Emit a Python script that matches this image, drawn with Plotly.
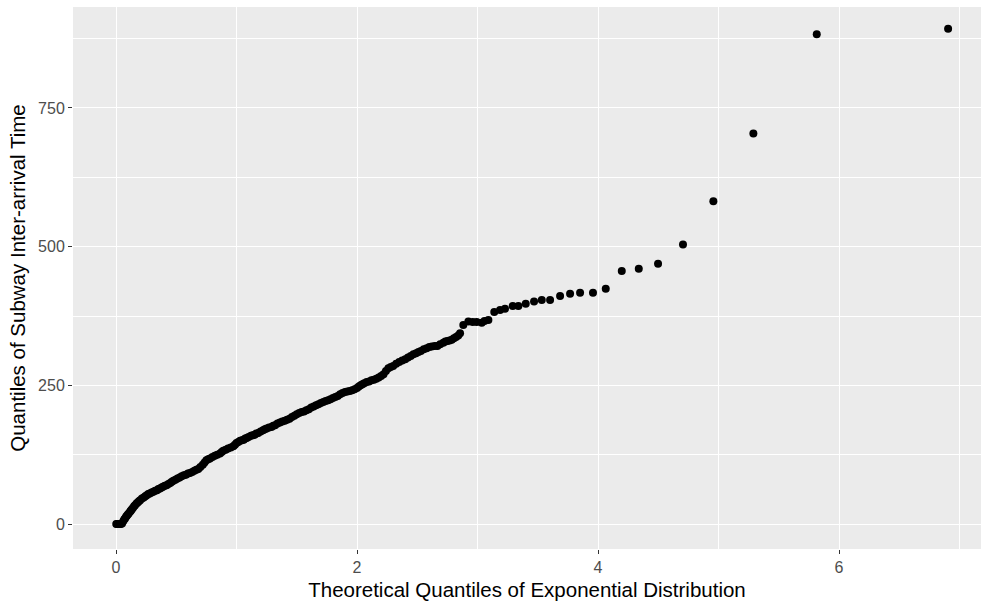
import plotly.graph_objects as go

# Theoretical quantiles (x) and sample quantiles (y)
theoretical = [
    0.002, 0.01, 0.02, 0.03, 0.04, 0.05, 0.06, 0.068, 0.075, 0.083, 0.09, 0.098, 0.105,
    0.116, 0.123, 0.13, 0.14, 0.15, 0.158, 0.17, 0.18, 0.19, 0.2, 0.215, 0.23, 0.243,
    0.255, 0.268, 0.28, 0.295, 0.31, 0.325, 0.34, 0.352, 0.365, 0.378, 0.39, 0.405,
    0.42, 0.435, 0.45, 0.463, 0.476, 0.493, 0.51, 0.528, 0.545, 0.563, 0.58, 0.597,
    0.614, 0.632, 0.65, 0.667, 0.683, 0.70, 0.72, 0.735, 0.75, 0.765, 0.78, 0.80,
    0.82, 0.84, 0.863, 0.877, 0.89, 0.91, 0.93, 0.952, 0.974, 0.987, 1.0, 1.015,
    1.03, 1.045, 1.06, 1.072, 1.085, 1.10, 1.12, 1.135, 1.15, 1.165, 1.18, 1.20,
    1.22, 1.235, 1.25, 1.27, 1.29, 1.305, 1.32, 1.34, 1.36, 1.38, 1.40, 1.42,
    1.44, 1.46, 1.48, 1.50, 1.52, 1.54, 1.56, 1.58, 1.60, 1.62, 1.64, 1.66,
    1.68, 1.70, 1.72, 1.74, 1.76, 1.78, 1.80, 1.82, 1.84, 1.86, 1.88, 1.90,
    1.92, 1.94, 1.96, 1.98, 2.0, 2.015, 2.03, 2.045, 2.06, 2.08, 2.10, 2.12,
    2.14, 2.16, 2.18, 2.20, 2.22, 2.24, 2.26, 2.28, 2.30, 2.325, 2.35, 2.375,
    2.40, 2.423, 2.446, 2.468, 2.49, 2.51, 2.53, 2.554, 2.578, 2.60, 2.62, 2.645,
    2.667, 2.69, 2.716, 2.733, 2.75, 2.768, 2.786, 2.804, 2.822, 2.84, 2.855,
    2.882, 2.924, 2.96, 2.993, 3.035, 3.058, 3.09, 3.139,
    3.187, 3.228, 3.292, 3.339, 3.40, 3.469, 3.533, 3.602, 3.685, 3.768, 3.851,
    3.958, 4.064, 4.197, 4.338, 4.498, 4.705, 4.957, 5.289, 5.815, 6.905,
]
sample = [
    0, 0, 0, 0, 0, 1, 5, 8, 10, 13, 15, 17, 19,
    22, 24, 26, 29, 32, 34, 37, 39, 41, 43, 46, 48, 50,
    52, 54, 55, 57, 58, 60, 61, 63, 64, 66, 67, 69,
    70, 72, 74, 76, 78, 80, 82, 84, 86, 88, 89, 91,
    92, 94, 96, 98, 99, 103, 107, 111, 115, 117, 118, 121,
    123, 125, 127, 130, 132, 134, 136, 138, 140, 143, 146, 148,
    150, 151, 152, 154, 155, 157, 159, 160, 161, 163, 164, 167,
    169, 171, 172, 174, 175, 177, 178, 181, 183, 185, 186, 188,
    190, 193, 195, 198, 200, 202, 203, 205, 207, 210, 212, 214,
    216, 218, 220, 222, 223, 225, 227, 229, 231, 234, 236, 238,
    239, 240, 241, 243, 245, 248, 250, 252, 254, 256, 257, 259,
    260, 262, 264, 267, 270, 276, 281, 283, 285, 289, 292, 295,
    297, 300, 303, 306, 308, 310, 312, 315, 317, 319, 320, 321,
    321, 324, 327, 329, 330, 331, 332, 335, 337, 340, 344,
    359, 365, 364, 364, 363, 366, 368, 382,
    386, 388, 393, 393, 397, 401, 404, 404, 411, 415, 417,
    417, 424, 456, 460, 469, 504, 582, 704, 883, 893,
]

x_ticks = [0, 2, 4, 6]
y_ticks = [0, 250, 500, 750]

fig = go.Figure()
fig.add_trace(go.Scatter(
    x=theoretical, y=sample, mode="markers",
    marker=dict(color="black", size=8, line=dict(width=0)),
    showlegend=False, hoverinfo="x+y",
))

font_family = "Liberation Sans, Arial, sans-serif"
axis_common = dict(
    showgrid=True, gridcolor="white", gridwidth=1.3,
    zeroline=False, showline=False,
    ticks="outside", ticklen=4, tickwidth=1, tickcolor="#333333",
    tickfont=dict(family=font_family, size=16, color="#4D4D4D"),
    title_font=dict(family=font_family, size=20.5, color="black"),
)

fig.update_layout(
    width=981, height=607,
    margin=dict(l=73, r=0, t=7, b=58),
    paper_bgcolor="white", plot_bgcolor="#EBEBEB",
    xaxis=dict(
        axis_common,
        range=[-0.357, 7.178], tickvals=x_ticks, ticktext=[str(v) for v in x_ticks],
        minor=dict(showgrid=True, gridcolor="white", gridwidth=0.6, tickvals=[1, 3, 5, 7], ticks=""),
        title=dict(text="Theoretical Quantiles of Exponential Distribution", standoff=7),
    ),
    yaxis=dict(
        axis_common,
        range=[-45, 932], tickvals=y_ticks, ticktext=[str(v) for v in y_ticks],
        minor=dict(showgrid=True, gridcolor="white", gridwidth=0.6, tickvals=[125, 375, 625, 875], ticks=""),
        title=dict(text="Quantiles of Subway Inter-arrival Time", standoff=6),
    ),
)

fig.write_html("out.html")
